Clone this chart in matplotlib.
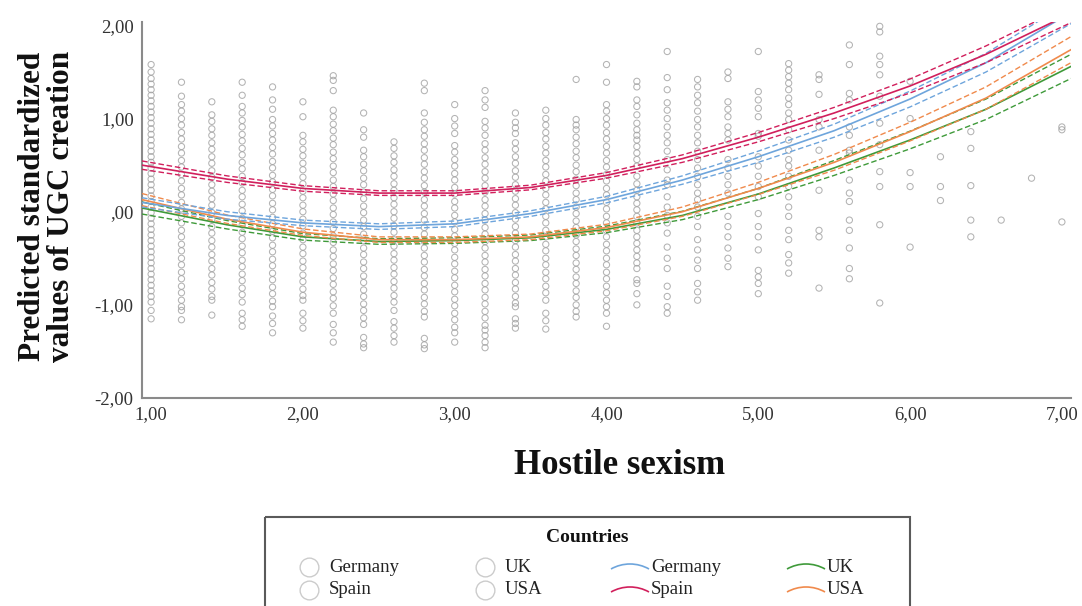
import matplotlib
matplotlib.use('Agg')
import matplotlib.pyplot as plt
from matplotlib.patches import Rectangle, Arc
import numpy as np

# ---------------- data ----------------
x_ticks = [1, 2, 3, 4, 5, 6, 7]
x_tick_labels = ['1,00', '2,00', '3,00', '4,00', '5,00', '6,00', '7,00']
y_ticks = [-2, -1, 0, 1, 2]
y_tick_labels = ['-2,00', '-1,00', ',00', '1,00', '2,00']

countries = ['Germany', 'Spain', 'UK', 'USA']
colors = {'Germany': '#6ea5dc', 'Spain': '#d11f5c', 'UK': '#3f9a3a', 'USA': '#f08a4c'}

fit_x = [0.94, 1.5, 2.0, 2.5, 3.0, 3.5, 4.0, 4.5, 5.0, 5.5, 6.0, 6.5, 7.06]
fit_germany = [0.10, -0.04, -0.12, -0.16, -0.13, -0.02, 0.13, 0.34, 0.59, 0.87, 1.21, 1.60, 2.14]
fit_spain = [0.50, 0.35, 0.25, 0.20, 0.20, 0.26, 0.39, 0.57, 0.80, 1.06, 1.35, 1.69, 2.13]
fit_uk = [0.04, -0.14, -0.27, -0.32, -0.31, -0.28, -0.19, -0.04, 0.19, 0.47, 0.77, 1.10, 1.56]
fit_usa = [0.13, -0.08, -0.22, -0.30, -0.30, -0.27, -0.17, 0.00, 0.25, 0.53, 0.86, 1.22, 1.74]

ci_germany = [0.05, 0.04, 0.03, 0.03, 0.03, 0.03, 0.035, 0.045, 0.06, 0.07, 0.085, 0.10, 0.12]
ci_spain = [0.045, 0.035, 0.03, 0.025, 0.025, 0.025, 0.03, 0.04, 0.05, 0.06, 0.075, 0.09, 0.10]
ci_uk = [0.065, 0.045, 0.035, 0.03, 0.03, 0.03, 0.035, 0.045, 0.06, 0.08, 0.095, 0.11, 0.13]
ci_usa = [0.065, 0.045, 0.035, 0.03, 0.03, 0.03, 0.035, 0.05, 0.065, 0.085, 0.10, 0.12, 0.14]

col_x = [1.0, 1.2, 1.4, 1.6, 1.8, 2.0, 2.2, 2.4, 2.6, 2.8, 3.0, 3.2, 3.4, 3.6, 3.8, 4.0,
         4.2, 4.4, 4.6, 4.8, 5.0, 5.2, 5.4, 5.6, 5.8, 6.0, 6.2, 6.4, 6.6, 6.8, 7.0]
col_y = [
    [1.58, 1.50, 1.43, 1.37, 1.31, 1.25, 1.19, 1.13, 1.07, 1.01, 0.95, 0.89, 0.83, 0.77, 0.71, 0.65,
     0.59, 0.53, 0.47, 0.41, 0.35, 0.29, 0.23, 0.17, 0.11, 0.05, -0.01, -0.07, -0.13, -0.19, -0.25,
     -0.31, -0.37, -0.43, -0.49, -0.55, -0.61, -0.67, -0.73, -0.79, -0.85, -0.91, -0.97, -1.06, -1.15],
    [1.39, 1.24, 1.15, 1.08, 1.00, 0.93, 0.85, 0.78, 0.70, 0.63, 0.55, 0.48, 0.40, 0.33, 0.25, 0.18,
     0.10, 0.03, -0.05, -0.12, -0.20, -0.27, -0.35, -0.42, -0.50, -0.57, -0.65, -0.72, -0.80, -0.87,
     -0.95, -1.02, -1.06, -1.16],
    [1.18, 1.04, 0.97, 0.89, 0.82, 0.74, 0.67, 0.59, 0.52, 0.44, 0.37, 0.29, 0.22, 0.14, 0.07, -0.01,
     -0.08, -0.16, -0.23, -0.31, -0.38, -0.46, -0.53, -0.61, -0.68, -0.76, -0.83, -0.91, -0.95, -1.11],
    [1.39, 1.25, 1.13, 1.06, 0.98, 0.91, 0.83, 0.76, 0.68, 0.61, 0.53, 0.46, 0.38, 0.31, 0.23, 0.16,
     0.08, 0.01, -0.07, -0.14, -0.22, -0.29, -0.37, -0.44, -0.52, -0.59, -0.67, -0.74, -0.82, -0.89,
     -0.97, -1.09, -1.16, -1.23],
    [1.34, 1.20, 1.10, 0.99, 0.92, 0.84, 0.77, 0.69, 0.62, 0.54, 0.47, 0.39, 0.32, 0.24, 0.17, 0.09,
     0.02, -0.06, -0.13, -0.21, -0.28, -0.36, -0.43, -0.51, -0.58, -0.66, -0.73, -0.81, -0.88, -0.96,
     -1.02, -1.12, -1.20, -1.30],
    [1.18, 1.02, 0.82, 0.75, 0.67, 0.60, 0.52, 0.45, 0.37, 0.30, 0.22, 0.15, 0.07, 0.00, -0.08, -0.15,
     -0.23, -0.30, -0.38, -0.45, -0.53, -0.60, -0.68, -0.75, -0.83, -0.90, -0.95, -1.09, -1.17, -1.25],
    [1.46, 1.41, 1.30, 1.09, 1.02, 0.94, 0.87, 0.79, 0.72, 0.64, 0.57, 0.49, 0.42, 0.34, 0.27, 0.19,
     0.12, 0.04, -0.03, -0.11, -0.18, -0.26, -0.33, -0.41, -0.48, -0.56, -0.63, -0.71, -0.78, -0.86,
     -0.93, -1.01, -1.09, -1.21, -1.30, -1.40],
    [1.06, 0.88, 0.80, 0.66, 0.59, 0.51, 0.44, 0.36, 0.29, 0.21, 0.14, 0.06, -0.01, -0.09, -0.16, -0.24,
     -0.31, -0.39, -0.46, -0.54, -0.61, -0.69, -0.76, -0.84, -0.91, -0.99, -1.06, -1.14, -1.21, -1.35,
     -1.42, -1.46],
    [0.75, 0.68, 0.60, 0.53, 0.45, 0.38, 0.30, 0.23, 0.15, 0.08, 0.00, -0.07, -0.15, -0.22, -0.30,
     -0.37, -0.45, -0.52, -0.60, -0.67, -0.75, -0.82, -0.90, -0.97, -1.06, -1.18, -1.25, -1.33, -1.40],
    [1.38, 1.30, 1.06, 0.96, 0.88, 0.81, 0.73, 0.66, 0.58, 0.51, 0.43, 0.36, 0.28, 0.21, 0.13, 0.06,
     -0.02, -0.09, -0.17, -0.24, -0.32, -0.39, -0.47, -0.54, -0.62, -0.69, -0.77, -0.84, -0.92, -0.99,
     -1.07, -1.13, -1.36, -1.43, -1.47],
    [1.15, 1.00, 0.92, 0.84, 0.71, 0.64, 0.56, 0.49, 0.41, 0.34, 0.26, 0.19, 0.11, 0.04, -0.04, -0.11,
     -0.19, -0.26, -0.34, -0.41, -0.49, -0.56, -0.64, -0.71, -0.79, -0.86, -0.94, -1.01, -1.09, -1.16,
     -1.24, -1.30, -1.40],
    [1.30, 1.20, 1.12, 0.97, 0.90, 0.82, 0.73, 0.66, 0.58, 0.51, 0.43, 0.36, 0.28, 0.21, 0.13, 0.06,
     -0.02, -0.09, -0.17, -0.24, -0.32, -0.39, -0.47, -0.54, -0.62, -0.69, -0.77, -0.84, -0.92, -0.99,
     -1.07, -1.14, -1.22, -1.27, -1.33, -1.40, -1.46],
    [1.06, 0.96, 0.90, 0.84, 0.74, 0.67, 0.59, 0.52, 0.44, 0.37, 0.29, 0.22, 0.14, 0.07, -0.01, -0.08,
     -0.16, -0.23, -0.31, -0.38, -0.46, -0.53, -0.61, -0.68, -0.76, -0.83, -0.91, -0.98, -1.02, -1.15,
     -1.20, -1.25],
    [1.09, 1.00, 0.93, 0.85, 0.78, 0.70, 0.63, 0.55, 0.48, 0.40, 0.33, 0.25, 0.18, 0.10, 0.03, -0.05,
     -0.12, -0.20, -0.27, -0.35, -0.42, -0.50, -0.57, -0.65, -0.72, -0.80, -0.87, -0.95, -1.09, -1.17,
     -1.26],
    [1.42, 0.99, 0.93, 0.88, 0.80, 0.73, 0.65, 0.58, 0.50, 0.43, 0.35, 0.28, 0.20, 0.13, 0.05, -0.02,
     -0.10, -0.17, -0.25, -0.32, -0.40, -0.47, -0.55, -0.62, -0.70, -0.77, -0.85, -0.92, -1.00, -1.07,
     -1.13],
    [1.58, 1.39, 1.15, 1.08, 1.00, 0.93, 0.85, 0.78, 0.70, 0.63, 0.55, 0.48, 0.40, 0.33, 0.25, 0.18,
     0.10, 0.03, -0.05, -0.12, -0.20, -0.27, -0.35, -0.42, -0.50, -0.57, -0.65, -0.72, -0.80, -0.87,
     -0.95, -1.02, -1.09, -1.23],
    [1.40, 1.34, 1.20, 1.13, 1.04, 0.95, 0.88, 0.82, 0.77, 0.70, 0.63, 0.56, 0.49, 0.38, 0.30, 0.23,
     0.16, 0.09, 0.02, -0.05, -0.12, -0.20, -0.27, -0.34, -0.41, -0.48, -0.55, -0.61, -0.73, -0.77,
     -0.88, -1.00],
    [1.72, 1.44, 1.31, 1.17, 1.09, 1.00, 0.91, 0.82, 0.74, 0.65, 0.56, 0.45, 0.34, 0.29, 0.16, 0.05,
     -0.04, -0.12, -0.23, -0.38, -0.50, -0.61, -0.80, -0.91, -1.02, -1.09],
    [1.42, 1.34, 1.25, 1.17, 1.08, 0.99, 0.91, 0.82, 0.74, 0.65, 0.56, 0.47, 0.38, 0.29, 0.20, 0.13,
     0.05, -0.05, -0.16, -0.30, -0.41, -0.52, -0.61, -0.77, -0.86, -0.95],
    [1.50, 1.43, 1.18, 1.10, 1.02, 0.91, 0.84, 0.77, 0.56, 0.47, 0.38, 0.29, 0.20, -0.05, -0.16, -0.27,
     -0.39, -0.50, -0.59],
    [1.72, 1.29, 1.20, 1.11, 1.02, 0.84, 0.81, 0.59, 0.49, 0.38, 0.27, 0.16, -0.02, -0.16, -0.27,
     -0.41, -0.63, -0.70, -0.77, -0.88],
    [1.59, 1.52, 1.45, 1.38, 1.31, 1.22, 1.15, 1.06, 0.99, 0.88, 0.77, 0.66, 0.56, 0.49, 0.38, 0.27,
     0.16, 0.05, -0.05, -0.20, -0.30, -0.46, -0.55, -0.66],
    [1.47, 1.42, 1.26, 0.99, 0.91, 0.66, 0.23, -0.20, -0.27, -0.82],
    [1.79, 1.58, 1.27, 1.20, 0.91, 0.82, 0.66, 0.63, 0.34, 0.20, 0.11, -0.09, -0.20, -0.39, -0.61, -0.72],
    [1.99, 1.93, 1.67, 1.58, 1.47, 1.24, 0.95, 0.72, 0.43, 0.27, -0.14, -0.98],
    [1.40, 1.00, 0.42, 0.27, -0.38],
    [0.59, 0.27, 0.12],
    [0.86, 0.68, 0.28, -0.09, -0.27],
    [-0.09],
    [0.36],
    [0.91, 0.88, -0.11],
]

# ---------------- figure ----------------
W, H = 1082, 606
plt.rcParams['font.family'] = ['Liberation Serif', 'DejaVu Serif']
fig = plt.figure(figsize=(W / 100, H / 100), dpi=100)
fig.patch.set_facecolor('white')

ax = fig.add_axes([142 / W, 1 - 398 / H, (1071 - 142) / W, (398 - 21.7) / H])

for xv, ys in zip(col_x, col_y):
    ax.scatter([xv] * len(ys), ys, s=20, facecolors='none', edgecolors='#a0a0a0',
               linewidths=0.75, alpha=0.8, zorder=1)

fits = {'Germany': (fit_germany, ci_germany), 'Spain': (fit_spain, ci_spain),
        'UK': (fit_uk, ci_uk), 'USA': (fit_usa, ci_usa)}
for c in ['UK', 'USA', 'Germany', 'Spain']:
    f, hw = fits[c]
    f = np.array(f)
    hw = np.array(hw)
    ax.plot(fit_x, f, color=colors[c], lw=1.2, zorder=3)
    ax.plot(fit_x, f + hw, color=colors[c], lw=1.0, ls=(0, (4, 2)), zorder=3)
    ax.plot(fit_x, f - hw, color=colors[c], lw=1.0, ls=(0, (4, 2)), zorder=3)

ax.set_xlim(0.94, 7.06)
ax.set_ylim(-2.0, 2.04)
ax.set_xticks(x_ticks)
ax.set_xticklabels(x_tick_labels)
ax.set_yticks(y_ticks)
ax.set_yticklabels(y_tick_labels)
ax.tick_params(length=0, labelsize=13.5, colors='#333333', pad=6)
for s in ['top', 'right']:
    ax.spines[s].set_visible(False)
for s in ['left', 'bottom']:
    ax.spines[s].set_color('#8a8a8a')
    ax.spines[s].set_linewidth(1.5)

fig.text(47 / W, 1 - 206 / H, 'Predicted standardized\nvalues of UGC creation', rotation=90,
         ha='center', va='center', fontsize=22.5, fontweight='bold', linespacing=1.0,
         multialignment='center', color='#111111')
fig.text(620 / W, 1 - 465 / H, 'Hostile sexism', ha='center', va='center',
         fontsize=25, fontweight='bold', color='#111111')

# ---------------- legend ----------------
lax = fig.add_axes([0, 0, 1, 1])
lax.set_xlim(0, W)
lax.set_ylim(H, 0)
lax.axis('off')
lax.add_patch(Rectangle((265, 517), 645, 130, fill=False, ec='#5a5a5a', lw=1.5))
lax.text(587, 537, 'Countries', ha='center', va='center', fontsize=14, fontweight='bold',
         color='#111111')

rows = [567, 590]
legend_circle_names = [['Germany', 'UK'], ['Spain', 'USA']]
legend_line_names = [['Germany', 'UK'], ['Spain', 'USA']]
circle_cols = [309, 485]
line_cols = [630, 806]
for ri, ry in enumerate(rows):
    for ci, cx in enumerate(circle_cols):
        lax.plot([cx], [ry], 'o', ms=13.5, mfc='none', mec='#cccccc', mew=1.0)
        lax.text(cx + 20, ry, legend_circle_names[ri][ci], ha='left', va='center',
                 fontsize=13.5, color='#222222')
    for ci, cx in enumerate(line_cols):
        name = legend_line_names[ri][ci]
        r = 38.6
        lax.add_patch(Arc((cx, ry - 3 + r), 2 * r, 2 * r, theta1=240.5, theta2=299.5,
                          color=colors[name], lw=1.2))
        lax.text(cx + 21, ry, name, ha='left', va='center', fontsize=13.5, color='#222222')

fig.savefig('out.png', dpi=100)
